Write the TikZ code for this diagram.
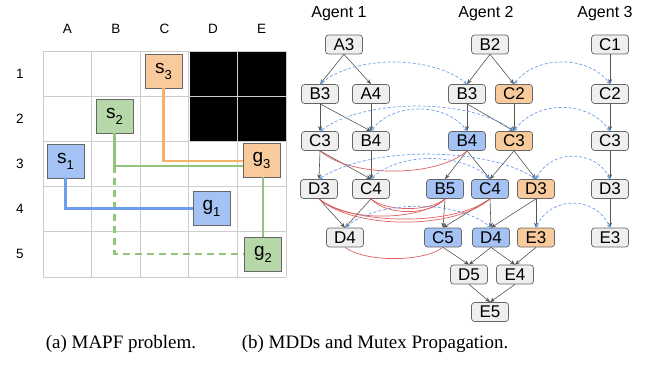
\documentclass[tikz,border=0pt]{standalone}
\usepackage{fontspec}
\setmainfont{Liberation Sans}
\newfontfamily\capfont{Liberation Serif}
\usetikzlibrary{arrows.meta}
\definecolor{nodegray}{HTML}{EFEFEF}
\definecolor{nodeborder}{HTML}{666666}
\definecolor{cblue}{HTML}{A4C2F4}
\definecolor{corange}{HTML}{F9CB9C}
\definecolor{cgreen}{HTML}{B6D7A8}
\definecolor{lblue}{HTML}{6D9EEB}
\definecolor{lorange}{HTML}{F6B26B}
\definecolor{lgreen}{HTML}{93C47D}
\definecolor{gridgray}{HTML}{CCCCCC}
\definecolor{arrgray}{HTML}{555555}
\definecolor{mred}{HTML}{E06060}
\newcommand\cellt[2]{{\fontsize{19}{19}\selectfont #1\raisebox{-6pt}{\fontsize{13}{13}\selectfont #2}}}
\newcommand\mybarc[4]{\draw[bluedash] (#1.north) .. controls +(#3,-#4) and +(-#3,-#4) .. (#2.north);}
\newcommand\myrarc[4]{\draw[redline] (#1.south) .. controls +(#3,#4) and +(-#3,#4) .. (#2.south);}
\begin{document}
\begin{tikzpicture}[x=1pt,y=-1pt,
  mdd/.style={draw=nodeborder, fill=nodegray, rounded corners=3pt, minimum width=37pt, minimum height=19pt, inner sep=0pt, line width=0.7pt, font=\fontsize{17}{17}\selectfont},
  bnode/.style={mdd, fill=cblue},
  onode/.style={mdd, fill=corange},
  cellbox/.style={draw=nodeborder, line width=0.7pt, minimum width=37pt, minimum height=34pt, inner sep=0pt},
  lbl/.style={font=\fontsize{13.5}{13.5}\selectfont},
  agent/.style={font=\fontsize{16}{16}\selectfont},
  garrow/.style={draw=arrgray, line width=0.6pt, -{Stealth[length=5pt,width=4pt]}},
  bluedash/.style={draw=lblue, line width=0.7pt, dash pattern=on 3pt off 2pt, {Stealth[length=4pt,width=3.5pt]}-{Stealth[length=4pt,width=3.5pt]}},
  redline/.style={draw=mred, line width=0.7pt},
  pathline/.style={line width=2.6pt},
  capt/.style={font=\capfont\fontsize{19}{19}\selectfont, anchor=base}
]
\useasboundingbox (0,0) rectangle (647,369);
% ---------- grid ----------
\fill[black] (189.8,51) rectangle (286,141.4);
\foreach \i in {0,...,5} {
  \draw[gridgray, line width=0.9pt] (43+\i*48.6,51) -- (43+\i*48.6,277);
  \draw[gridgray, line width=0.9pt] (43,51+\i*45.2) -- (286,51+\i*45.2);
}
\foreach \c [count=\i from 0] in {A,B,C,D,E}
  \node[lbl] (col\c) at (67.3+\i*48.6,29) {\c};
\foreach \r [count=\i from 0] in {1,...,5}
  \node[lbl] (row\r) at (20,73.6+\i*45.2) {\r};
% cell boxes
\node[cellbox, fill=corange] (s3) at (163.5,71) {\cellt{s}{3}};
\node[cellbox, fill=cgreen] (s2) at (114.5,116) {\cellt{s}{2}};
\node[cellbox, fill=cblue] (s1) at (65.5,161) {\cellt{s}{1}};
\node[cellbox, fill=corange] (g3) at (261.5,160) {\cellt{g}{3}};
\node[cellbox, fill=cblue] (g1) at (211.5,208.5) {\cellt{g}{1}};
\node[cellbox, fill=cgreen] (g2) at (263,254) {\cellt{g}{2}};
\coordinate (gj) at (114.5,166);
% paths
\draw[pathline, lorange] (s3.south) |- ([yshift=-1pt]g3.west);
\draw[pathline, lgreen] (s2.south) |- ([yshift=-6pt]g3.west);
\draw[pathline, lgreen] (g2.north |- g3.south) -- (g2.north);
\draw[pathline, lgreen, dash pattern=on 7pt off 5pt] (gj) |- (g2.west);
\draw[pathline, lblue] (s1.south) |- (g1.west);
% ---------- MDDs ----------
\node[agent] (ag1) at (339,14) {Agent 1};
\node[agent] (ag2) at (486,14) {Agent 2};
\node[agent] (ag3) at (605,14) {Agent 3};
% agent 1
\node[mdd] (a1A3) at (344,44.5) {A3};
\node[mdd] (a1B3) at (320,94) {B3};
\node[mdd] (a1A4) at (371,94) {A4};
\node[mdd] (a1C3) at (320,141) {C3};
\node[mdd] (a1B4) at (371,141) {B4};
\node[mdd] (a1D3) at (319,189) {D3};
\node[mdd] (a1C4) at (371,189) {C4};
\node[mdd] (a1D4) at (345,237.5) {D4};
% agent 2
\node[mdd] (a2B2) at (490,44.5) {B2};
\node[mdd] (a2B3) at (467,94) {B3};
\node[onode] (a2C2) at (514,94) {C2};
\node[bnode] (a2B4) at (467,141) {B4};
\node[onode] (a2C3) at (514,141) {C3};
\node[bnode] (a2B5) at (445,189) {B5};
\node[bnode] (a2C4) at (490,189) {C4};
\node[onode] (a2D3) at (536,189) {D3};
\node[bnode] (a2C5) at (443,237.5) {C5};
\node[bnode] (a2D4) at (491,237.5) {D4};
\node[onode] (a2E3) at (536,237.5) {E3};
\node[mdd] (a2D5) at (469,274.5) {D5};
\node[mdd] (a2E4) at (515,274.5) {E4};
\node[mdd] (a2E5) at (490,312) {E5};
% agent 3
\node[mdd] (a3C1) at (610,44.5) {C1};
\node[mdd] (a3C2) at (610,94) {C2};
\node[mdd] (a3C3) at (610,141) {C3};
\node[mdd] (a3D3) at (610,189) {D3};
\node[mdd] (a3E3) at (610,237.5) {E3};
% MDD edges
\foreach \a/\b in {a1A3/a1B3, a1A3/a1A4, a1B3/a1C3, a1B3/a1B4, a1A4/a1B4, a1C3/a1D3, a1C3/a1C4, a1B4/a1C4, a1D3/a1D4, a1C4/a1D4,
  a2B2/a2B3, a2B2/a2C2, a2B3/a2B4, a2B3/a2C3, a2C2/a2C3, a2B4/a2B5, a2B4/a2C4, a2C3/a2C4, a2C3/a2D3, a2B5/a2C5, a2C4/a2C5, a2C4/a2D4, a2D3/a2D4, a2D3/a2E3, a2C5/a2D5, a2D4/a2D5, a2D4/a2E4, a2E3/a2E4, a2D5/a2E5, a2E4/a2E5,
  a3C1/a3C2, a3C2/a3C3, a3C3/a3D3, a3D3/a3E3}
  \draw[garrow] (\a.south) -- (\b.north);
% red mutex curves
\myrarc{a1C3}{a2B4}{30}{27}
\myrarc{a1C4}{a2B5}{15}{13}
\myrarc{a1C4}{a2B5}{15}{17}
\myrarc{a1D3}{a2B5}{25}{23}
\myrarc{a1D3}{a2C4}{35}{27}
\myrarc{a1D3}{a2C4}{35}{31}
\myrarc{a1D4}{a2C5}{20}{15}
% blue dashed vertex mutex arcs
\mybarc{a1B3}{a2B3}{35}{29}
\mybarc{a2C2}{a3C2}{22}{29}
\mybarc{a1C3}{a2C3}{45}{33}
\mybarc{a1B4}{a2B4}{22}{29}
\mybarc{a2C3}{a3C3}{22}{31}
\mybarc{a1D3}{a2D3}{50}{33}
\mybarc{a1C4}{a2C4}{28}{27}
\mybarc{a2D3}{a3D3}{15}{30}
\mybarc{a1D4}{a2D4}{34}{28}
\mybarc{a2E3}{a3E3}{15}{32}
% captions
\node[capt] (capa) at (121,348) {(a) MAPF problem.};
\node[capt] (capb) at (375,348) {(b) MDDs and Mutex Propagation.};
\end{tikzpicture}
\end{document}
